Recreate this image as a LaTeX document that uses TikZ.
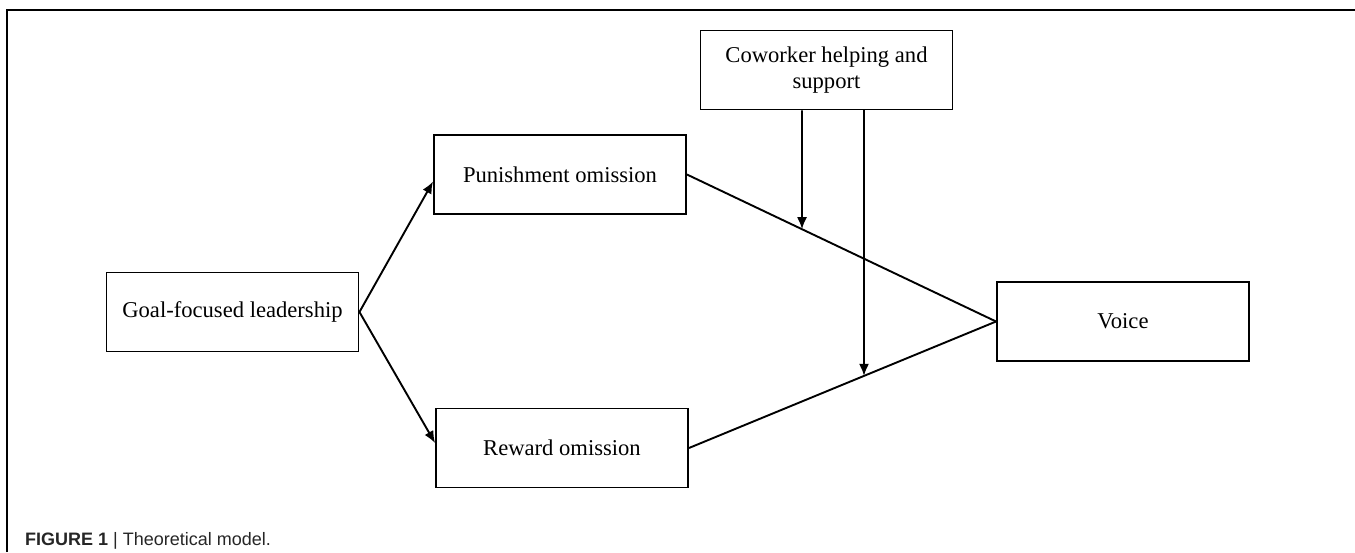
\documentclass[tikz,border=0pt]{standalone}
\usepackage{fontspec}
\setmainfont{Liberation Serif}
\newfontfamily\capfont{Liberation Sans}
\usetikzlibrary{arrows.meta,calc}
\begin{document}
\begin{tikzpicture}[x=1pt,y=-1pt,
  box/.style={draw,line width=1.9pt,minimum width=252pt,minimum height=79pt,inner sep=0pt,align=center,font=\fontsize{22.6}{26}\selectfont},
  arr/.style={line width=1.9pt,-{Latex[length=12pt,width=10pt]}},
  ln/.style={line width=1.9pt}]
\useasboundingbox (0,0) rectangle (1355,552);
\draw[line width=1.3pt] (7,552) -- (7,10) -- (1355,10);
\node[box] (goal) at (232.5,312) {Goal-focused leadership};
\node[box] (pun) at (560,174.5) {Punishment omission};
\node[box] (rew) at (562,448) {Reward omission};
\node[box] (cw) at (826.5,70) {Coworker helping and\\support};
\node[box] (voice) at (1123,321.5) {Voice};
\draw[arr] (goal.east) -- ($(pun.west)+(0,7)$);
\draw[arr] (goal.east) -- ($(rew.west)+(0,-5)$);
\draw[ln] (pun.east) -- (voice.west);
\draw[ln] (rew.east) -- (voice.west);
\coordinate (m1) at ($(cw.south)+(-24.5,0)$);
\coordinate (m1b) at ($(cw.south)+(-24.5,400)$);
\coordinate (m2) at ($(cw.south)+(37.5,0)$);
\coordinate (m2b) at ($(cw.south)+(37.5,400)$);
\draw[arr] (m1) -- (intersection of m1--m1b and pun.east--voice.west);
\draw[arr] (m2) -- (intersection of m2--m2b and rew.east--voice.west);
\node[anchor=base west,inner sep=0pt,font=\capfont\fontsize{18}{20}\selectfont,text=black!85] (cap) at (25,545) {\textbf{FIGURE 1} | Theoretical model.};
\end{tikzpicture}
\end{document}
